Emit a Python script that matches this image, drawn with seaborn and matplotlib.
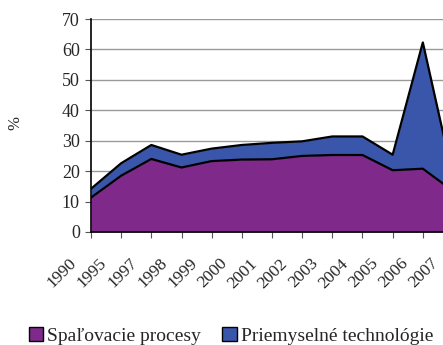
import matplotlib
matplotlib.use("Agg")
import matplotlib.pyplot as plt
import seaborn as sns
import pandas as pd
import numpy as np
from matplotlib.patches import Patch

years = ["1990", "1995", "1997", "1998", "1999", "2000", "2001",
         "2002", "2003", "2004", "2005", "2006", "2007"]
spalovacie = [11.3, 18.5, 24.0, 21.2, 23.3, 23.8, 23.9, 25.0, 25.3, 25.3, 20.3, 20.8, 13.5]
priemyselne = [2.9, 4.1, 4.6, 4.2, 4.1, 4.8, 5.4, 4.8, 6.1, 6.1, 5.1, 41.5, 4.5]
y_ticks = [0, 10, 20, 30, 40, 50, 60, 70]

purple = "#7f2a8b"
blue = "#3a56aa"

sns.set_style("white")
plt.rcParams["font.family"] = ["Liberation Serif", "DejaVu Serif"]

df = pd.DataFrame({"rok": years, "Spaľovacie procesy": spalovacie,
                   "Priemyselné technológie": priemyselne})
df["x"] = np.arange(len(df))
df["spolu"] = df["Spaľovacie procesy"] + df["Priemyselné technológie"]

fig = plt.figure(figsize=(4.43, 3.45), dpi=100)
ax = fig.add_axes([91 / 443, 113 / 345, 362 / 443, 213 / 345])

ax.fill_between(df["x"], 0, df["Spaľovacie procesy"], color=purple, lw=0, zorder=2)
ax.fill_between(df["x"], df["Spaľovacie procesy"], df["spolu"], color=blue, lw=0, zorder=2)
sns.lineplot(data=df, x="x", y="Spaľovacie procesy", color="black", lw=1.6, ax=ax, zorder=3)
sns.lineplot(data=df, x="x", y="spolu", color="black", lw=1.6, ax=ax, zorder=3)

ax.set_xlim(0, len(years) - 1)
ax.set_ylim(0, 70)
ax.set_yticks(y_ticks)
ax.set_yticklabels([str(v) for v in y_ticks], fontsize=13)
ax.set_xticks(df["x"])
ax.set_xticklabels([""] * len(years))
# year labels: slanted, ending a little left of and below each tick
for i, yr in enumerate(years):
    ax.annotate(yr, xy=(i, 0), xycoords=("data", "axes fraction"),
                xytext=(-10, -23), textcoords="offset points",
                rotation=45, ha="right", va="baseline", rotation_mode="anchor",
                fontsize=12.5, annotation_clip=False)
ax.set_xlabel("")
ax.set_ylabel("")

for v in y_ticks[1:]:
    ax.axhline(v, color="#9a9a9a", lw=1.0, zorder=1)

for side in ["top", "right"]:
    ax.spines[side].set_visible(False)
ax.spines["left"].set_color("black")
ax.spines["bottom"].set_color("black")
ax.spines["left"].set_linewidth(1.2)
ax.spines["bottom"].set_linewidth(1.2)
ax.spines["left"].set_zorder(4)
ax.spines["bottom"].set_zorder(4)
ax.tick_params(axis="both", which="both", direction="out", length=4, width=0.8,
               color="#555555", bottom=True, left=True, pad=2)
ax.tick_params(axis="y", pad=4)

fig.text(15 / 443, 1 - 123 / 345, "%", rotation=90, ha="center", va="center", fontsize=12)

handles = [Patch(facecolor=purple, edgecolor="black", lw=1.0, label="Spaľovacie procesy"),
           Patch(facecolor=blue, edgecolor="black", lw=1.0, label="Priemyselné technológie")]
fig.legend(handles=handles, loc="center", bbox_to_anchor=(231 / 443, 9 / 345), ncol=2,
           frameon=False, fontsize=14, handlelength=0.75, handleheight=0.75,
           handletextpad=0.2, columnspacing=1.1, borderaxespad=0)

fig.savefig("out.png", dpi=100)
